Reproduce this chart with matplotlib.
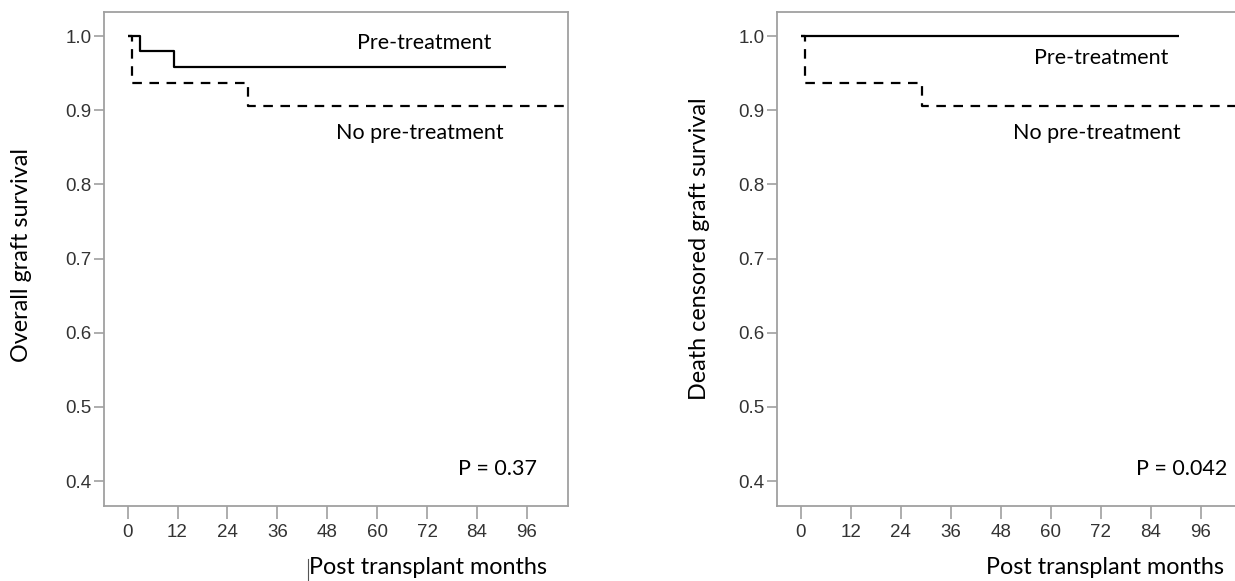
import matplotlib
matplotlib.use("Agg")
import matplotlib.pyplot as plt
from matplotlib.lines import Line2D

# ---- data (months, survival) ----
left_pre_t = [0, 3.1, 11.2, 90.9]
left_pre_s = [1.0, 0.980, 0.958, 0.958]
left_nopre_t = [0, 1.0, 29.0, 105.0]
left_nopre_s = [1.0, 0.936, 0.905, 0.905]

right_pre_t = [0, 90.8]
right_pre_s = [1.0, 1.0]
right_nopre_t = [0, 1.15, 29.0, 108.0]
right_nopre_s = [1.0, 0.936, 0.905, 0.905]

x_ticks = [0, 12, 24, 36, 48, 60, 72, 84, 96]
y_ticks = [0.4, 0.5, 0.6, 0.7, 0.8, 0.9, 1.0]
y_ticklabels = ["0.4", "0.5", "0.6", "0.7", "0.8", "0.9", "1.0"]

label_pre = "Pre-treatment"
label_nopre = "No pre-treatment"
p_left = "P = 0.37"
p_right = "P = 0.042"
xlabel = "Post transplant months"
ylabel_left = "Overall graft survival"
ylabel_right = "Death censored graft survival"

W, H = 1235, 581
fig = plt.figure(figsize=(W / 100, H / 100), dpi=100)

TXT_FONT = ["Lato", "DejaVu Sans"]
TICK_FONT = ["Liberation Sans", "DejaVu Sans"]
spine_col = "#a0a0a0"
XLIM = (-5.6, 105.8)
YLIM = (0.3663, 1.0324)
ANN = 15.5
TITLE = 16.8

def px_axes(l, r, t, b):
    return [l / W, 1 - b / H, (r - l) / W, (b - t) / H]

def style(ax):
    ax.set_xlim(*XLIM)
    ax.set_ylim(*YLIM)
    for s in ax.spines.values():
        s.set_color(spine_col)
        s.set_linewidth(1.3)
    ax.set_xticks(x_ticks)
    ax.set_xticklabels([str(v) for v in x_ticks], fontfamily=TICK_FONT,
                       fontsize=13.5, color="#333333")
    ax.set_yticks(y_ticks)
    ax.set_yticklabels(y_ticklabels, fontfamily=TICK_FONT, fontsize=13.5,
                       color="#333333")
    ax.tick_params(axis="x", length=9, width=1.2, color=spine_col, pad=4)
    ax.tick_params(axis="y", length=7.5, width=1.2, color=spine_col, pad=1.5)

def curves(ax, pt, ps, nt, ns):
    ax.step(pt, ps, where="post", color="black", lw=1.6, solid_capstyle="butt")
    ln, = ax.step(nt, ns, where="post", color="black", lw=1.6)
    ln.set_dashes((4.3, 3.4))

axL = fig.add_axes(px_axes(104.3, 567.7, 12, 506))
style(axL)
curves(axL, left_pre_t, left_pre_s, left_nopre_t, left_nopre_s)
axL.text(71.3, 0.991, label_pre, ha="center", va="center", fontsize=ANN, fontfamily=TXT_FONT)
axL.text(70.3, 0.869, label_nopre, ha="center", va="center", fontsize=ANN, fontfamily=TXT_FONT)
axL.text(88.9, 0.416, p_left, ha="center", va="center", fontsize=ANN, fontfamily=TXT_FONT)

axR = fig.add_axes(px_axes(777.3, 1241.6, 12, 506))
style(axR)
curves(axR, right_pre_t, right_pre_s, right_nopre_t, right_nopre_s)
axR.text(72.2, 0.970, label_pre, ha="center", va="center", fontsize=ANN, fontfamily=TXT_FONT)
axR.text(71.1, 0.869, label_nopre, ha="center", va="center", fontsize=ANN, fontfamily=TXT_FONT)
axR.text(91.3, 0.416, p_right, ha="center", va="center", fontsize=ANN, fontfamily=TXT_FONT)

# axis titles
fig.text(428.3 / W, 1 - 568 / H, xlabel, ha="center", va="center", fontsize=TITLE, fontfamily=TXT_FONT)
fig.text(1105.2 / W, 1 - 568 / H, xlabel, ha="center", va="center", fontsize=TITLE, fontfamily=TXT_FONT)
fig.text(22 / W, 1 - 255 / H, ylabel_left, ha="center", va="center", rotation=90, fontsize=TITLE, fontfamily=TXT_FONT)
fig.text(699 / W, 1 - 249 / H, ylabel_right, ha="center", va="center", rotation=90, fontsize=TITLE, fontfamily=TXT_FONT)

# thin cursor mark before the left x label
fig.add_artist(Line2D([308 / W, 308 / W], [1 - 559 / H, 0], transform=fig.transFigure,
                      color="#555555", lw=0.8))

fig.savefig("out.png", dpi=100)
